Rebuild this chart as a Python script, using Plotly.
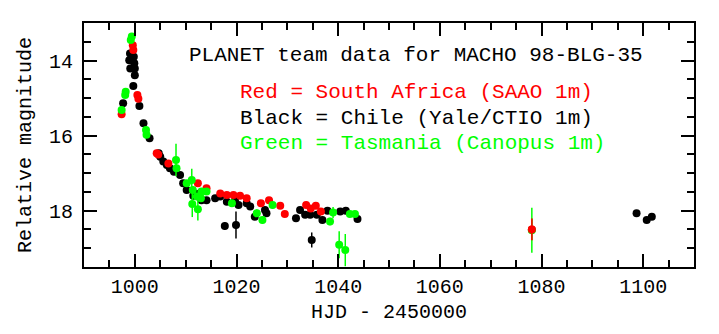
import plotly.graph_objects as go

# --- Data ---
red_hjd = [997.4, 999.6, 999.7, 1000.5, 1000.7, 1004.3, 1004.6, 1006.6, 1012.4, 1014.1,
           1016.8, 1018.1, 1019.4, 1020.7, 1022.0, 1024.8, 1026.4, 1028.6, 1029.5, 1033.7,
           1034.6, 1035.6, 1036.6, 1078.1]
red_mag = [15.43, 13.59, 13.72, 14.92, 15.02, 16.47, 16.50, 16.74, 17.27, 17.40,
           17.54, 17.58, 17.58, 17.60, 17.67, 17.80, 17.72, 17.87, 18.09, 17.85,
           17.94, 17.87, 18.02, 18.50]
red_err = [0.06] * 23 + [0.29]

black_hjd = [997.7, 998.9, 999.05, 999.1, 999.7, 999.8, 999.9, 1000.0, 1000.0, 1000.9,
             1001.7, 1002.9, 1004.7, 1005.0, 1005.6, 1006.3, 1006.9, 1007.7, 1008.9, 1009.5,
             1010.2, 1011.5, 1012.0, 1013.1, 1014.1, 1015.8, 1016.8, 1017.7, 1018.1, 1019.7,
             1019.9, 1020.4, 1022.0, 1022.7, 1023.6, 1025.6, 1025.9, 1031.7, 1032.5, 1033.5,
             1034.5, 1034.8, 1035.8, 1036.9, 1037.9, 1040.4, 1041.5, 1043.8, 1098.7, 1100.7,
             1101.7]
black_mag = [15.14, 13.99, 13.81, 14.21, 14.68, 13.90, 14.07, 14.21, 14.39, 15.21,
             15.67, 16.07, 16.47, 16.56, 16.69, 16.78, 16.87, 16.96, 17.05, 17.27,
             17.45, 17.60, 17.55, 17.72, 17.72, 17.67, 17.62, 18.41, 17.76, 17.73,
             18.38, 17.85, 17.80, 17.89, 18.16, 17.98, 18.07, 18.20, 17.98, 18.11,
             18.11, 18.78, 18.11, 18.25, 18.00, 18.02, 18.00, 18.22, 18.07, 18.25,
             18.16]
black_err = [0.06] * 51
black_err[black_hjd.index(1019.9)] = 0.36
black_err[black_hjd.index(1034.8)] = 0.20
black_err[black_hjd.index(1017.7)] = 0.10

green_hjd = [997.4, 998.1, 998.2, 999.2, 999.4, 1002.2, 1002.3, 1008.1, 1008.2, 1010.2,
             1011.2, 1011.4, 1011.3, 1012.2, 1012.4, 1013.1, 1014.1, 1013.0, 1019.1, 1024.0,
             1025.1, 1027.1, 1038.4, 1039.0, 1040.2, 1041.4, 1042.3, 1043.3, 1078.1]
green_mag = [15.32, 14.92, 14.83, 13.45, 13.36, 15.85, 15.98, 16.65, 16.87, 17.27,
             17.18, 17.45, 17.82, 17.62, 17.96, 17.49, 17.49, 17.67, 17.80, 18.07,
             18.25, 17.85, 18.29, 18.05, 18.91, 19.05, 18.09, 18.09, 18.52]
green_err = [0.08, 0.08, 0.08, 0.08, 0.08, 0.08, 0.08, 0.43, 0.10, 0.08,
             0.30, 0.10, 0.35, 0.10, 0.30, 0.08, 0.08, 0.08, 0.08, 0.10,
             0.10, 0.10, 0.10, 0.15, 0.36, 0.43, 0.08, 0.08, 0.60]

title_text = "PLANET team data for MACHO 98-BLG-35"
legend_lines = [("Red = South Africa (SAAO 1m)", "#ff0000"),
                ("Black = Chile (Yale/CTIO 1m)", "#000000"),
                ("Green = Tasmania (Canopus 1m)", "#00ff00")]

FONT = "Liberation Mono"
W, H = 719, 334
ML, MR, MT, MB = 84, 25, 23, 67


def trace(x, y, err, color):
    return go.Scatter(
        x=x, y=y, mode="markers",
        marker=dict(color=color, size=8, line=dict(width=0)),
        error_y=dict(type="data", array=err, visible=True, color=color,
                     thickness=1.5, width=0),
        showlegend=False, hoverinfo="skip")


fig = go.Figure()
fig.add_trace(trace(black_hjd, black_mag, black_err, "#000000"))
fig.add_trace(trace(red_hjd, red_mag, red_err, "#ff0000"))
fig.add_trace(trace(green_hjd, green_mag, green_err, "#00ff00"))
# late red point is drawn above the green one in the reference
late = [i for i, d in enumerate(red_hjd) if d > 1060]
fig.add_trace(trace([red_hjd[i] for i in late], [red_mag[i] for i in late],
                    [red_err[i] for i in late], "#ff0000"))

axis_common = dict(
    showline=True, linecolor="black", linewidth=2, mirror="ticks",
    ticks="inside", ticklen=13, tickwidth=1.5, tickcolor="black",
    showgrid=False, zeroline=False,
    tickfont=dict(family=FONT, size=20, color="black"),
)

fig.update_xaxes(range=[990, 1110], tick0=1000, dtick=20,
                 minor=dict(ticks="inside", ticklen=7, dtick=5, tick0=1000,
                            tickcolor="black", tickwidth=1.5, showgrid=False),
                 title=dict(text="HJD - 2450000", font=dict(family=FONT, size=20, color="black"),
                            standoff=6),
                 **axis_common)
fig.update_yaxes(range=[19.5, 13.0], tick0=14, dtick=2, ticklabelstandoff=5,
                 minor=dict(ticks="inside", ticklen=7, dtick=0.5, tick0=14,
                            tickcolor="black", tickwidth=1.5, showgrid=False),
                 title=dict(text="Relative magnitude", font=dict(family=FONT, size=20, color="black"),
                            standoff=12),
                 **axis_common)

pw = W - ML - MR
ph = H - MT - MB


def px(xp):
    return (xp - ML) / pw


def py(yp):
    return (H - MB - yp) / ph


fig.add_annotation(text=title_text, x=px(187), y=py(55), xref="paper", yref="paper",
                   xanchor="left", yanchor="middle", showarrow=False,
                   font=dict(family=FONT, size=21, color="black"))
for (txt, col), ypix in zip(legend_lines, [92, 118, 143]):
    fig.add_annotation(text=txt, x=px(238), y=py(ypix), xref="paper", yref="paper",
                       xanchor="left", yanchor="middle", showarrow=False,
                       font=dict(family=FONT, size=21, color=col))

fig.update_layout(
    width=W, height=H,
    margin=dict(l=ML, r=MR, t=MT, b=MB),
    paper_bgcolor="white", plot_bgcolor="white",
    font=dict(family=FONT, color="black"),
)

fig.write_html("out.html")
